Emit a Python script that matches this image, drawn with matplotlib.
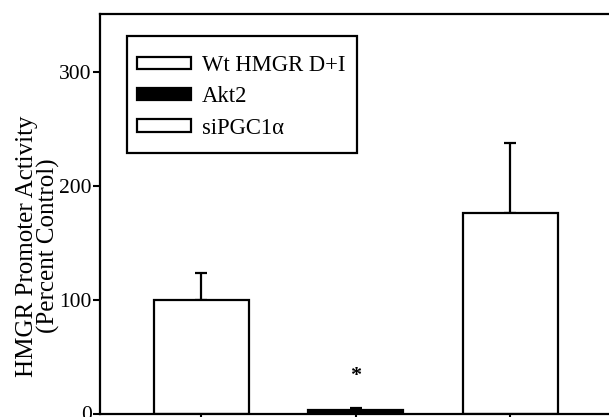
import numpy as np
import matplotlib
matplotlib.use("Agg")
from matplotlib import pyplot as plt
from matplotlib.patches import Rectangle

# values
groups = ["Wt HMGR D+I", "Akt2", "siPGC1\u03b1"]
means = [100., 3., 176.]
errs = [23., 2., 61.]
fills = ["white", "black", "white"]
star_group = 1  # significant vs control

plt.rcParams['font.family'] = ['Liberation Serif', 'DejaVu Serif']

fig = plt.figure()
fig.set_dpi(100)
fig.set_size_inches(6.09, 4.17)

W, H = 609., 417.
ax = fig.add_axes([100/W, 1 - 413.5/H, 520/W, 400/H])

x = np.arange(1, len(groups) + 1)
for i in range(len(groups)):
    ax.bar(x[i], means[i], width=0.615, color=fills[i], edgecolor='black',
           linewidth=1.6, label=groups[i], zorder=2)
    ax.errorbar(x[i], means[i], yerr=[[0], [errs[i]]], fmt='none',
                ecolor='black', elinewidth=1.6, capsize=4.3, capthick=1.6,
                zorder=1)

ax.text(x[star_group], means[star_group] + errs[star_group] + 28, '*',
        ha='center', va='center', fontsize=16, fontweight='bold')

ax.set_xlim(0.346, 3.712)
ax.set_ylim(0, 351)
ax.set_yticks([0, 100, 200, 300])
ax.set_xticks(x)
ax.set_xticklabels([])
ax.tick_params(axis='y', direction='out', length=5, width=1.5, labelsize=15.5, pad=1)
ax.tick_params(axis='x', direction='out', length=6, width=1.5)
for s in ax.spines.values():
    s.set_linewidth(1.6)

fig.text(38/W, 1 - 246/H, "HMGR Promoter Activity\n(Percent Control)",
         rotation=90, ha='center', va='center', multialignment='center',
         fontsize=18, linespacing=0.92)

# legend box (drawn separately, the original has more room above/below)
ax.add_patch(Rectangle((0.0519, 0.65125), 0.4423, 0.2925, transform=ax.transAxes,
                       facecolor='white', edgecolor='black', linewidth=1.6,
                       zorder=3))
leg = ax.legend(loc='upper left', bbox_to_anchor=(0.0712, 0.897),
                borderaxespad=0, borderpad=0, frameon=False, fontsize=16.3,
                handlelength=2.4, handleheight=0.45, handletextpad=0.45,
                labelspacing=0.46)
leg.set_zorder(4)

fig.savefig("out.png", dpi=100)
